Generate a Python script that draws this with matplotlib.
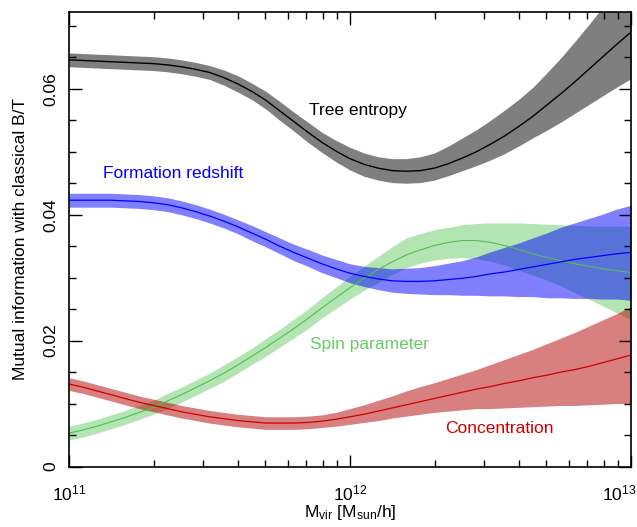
import numpy as np
import matplotlib.pyplot as plt
import matplotlib.transforms as mtransforms

plt.rcParams['font.family'] = ['Liberation Sans', 'DejaVu Sans']
plt.rcParams['mathtext.fontset'] = 'custom'
plt.rcParams['mathtext.rm'] = 'Liberation Sans'
plt.rcParams['mathtext.it'] = 'Liberation Sans:italic'

# halo mass grid, log10(M_vir), read every 0.05 dex
log_mass = [11.00, 11.05, 11.10, 11.15, 11.20, 11.25, 11.30, 11.35, 11.40, 11.45,
            11.50, 11.55, 11.60, 11.65, 11.70, 11.75, 11.80, 11.85, 11.90, 11.95,
            12.00, 12.05, 12.10, 12.15, 12.20, 12.25, 12.30, 12.35, 12.40, 12.45,
            12.50, 12.55, 12.60, 12.65, 12.70, 12.75, 12.80, 12.85, 12.90, 12.95,
            13.00]

# Tree entropy: median and lower/upper spread
tree_mid = [.0646, .0645, .0644, .0643, .0642, .0641, .0640, .0638, .0635, .0631,
            .0626, .0618, .0608, .0596, .0582, .0565, .0548, .0531, .0515, .0501,
            .0489, .0480, .0474, .0470, .0469, .0470, .0474, .0481, .0490, .0500,
            .0512, .0525, .0540, .0556, .0574, .0592, .0611, .0631, .0651, .0671,
            .0690]
tree_dlo = [.0011, .0011, .0011, .0011, .0011, .0011, .0011, .0011, .0011, .0011,
            .0011, .0012, .0013, .0013, .0014, .0015, .0015, .0016, .0016, .0017,
            .0018, .0019, .0019, .0019, .0019, .0019, .0019, .0019, .0020, .0022,
            .0025, .0028, .0031, .0034, .0040, .0045, .0050, .0056, .0062, .0068,
            .0074]
tree_dhi = [.0011, .0011, .0011, .0011, .0011, .0011, .0011, .0011, .0011, .0011,
            .0011, .0012, .0013, .0013, .0014, .0015, .0015, .0016, .0016, .0017,
            .0018, .0018, .0018, .0019, .0020, .0022, .0024, .0028, .0032, .0035,
            .0038, .0041, .0043, .0046, .0051, .0057, .0064, .0071, .0079, .0087,
            .0095]

# Formation redshift
form_mid = [.0423, .0423, .0423, .0423, .0422, .0421, .0419, .0416, .0411, .0405,
            .0398, .0390, .0381, .0371, .0361, .0350, .0340, .0331, .0322, .0314,
            .0307, .0302, .0298, .0295, .0294, .0294, .0295, .0297, .0299, .0302,
            .0306, .0309, .0313, .0317, .0321, .0325, .0329, .0332, .0335, .0338,
            .0340]
form_dlo = [.0011, .0011, .0011, .0011, .0011, .0011, .0011, .0011, .0011, .0011,
            .0011, .0011, .0011, .0012, .0012, .0012, .0013, .0013, .0014, .0014,
            .0015, .0016, .0017, .0018, .0019, .0020, .0022, .0024, .0027, .0030,
            .0035, .0038, .0043, .0047, .0053, .0057, .0062, .0065, .0069, .0072,
            .0076]
form_dhi = [.0011, .0011, .0011, .0011, .0011, .0011, .0011, .0011, .0011, .0011,
            .0011, .0011, .0011, .0012, .0012, .0013, .0013, .0014, .0014, .0015,
            .0015, .0016, .0018, .0019, .0021, .0022, .0024, .0026, .0028, .0031,
            .0035, .0039, .0042, .0046, .0050, .0055, .0058, .0062, .0066, .0071,
            .0075]

# Spin parameter
spin_mid = [.0053, .0058, .0064, .0071, .0078, .0086, .0094, .0104, .0114, .0125,
            .0136, .0148, .0161, .0175, .0189, .0204, .0219, .0235, .0252, .0268,
            .0284, .0299, .0313, .0325, .0336, .0344, .0351, .0356, .0359, .0359,
            .0356, .0351, .0345, .0338, .0332, .0327, .0322, .0318, .0314, .0311,
            .0308]
spin_dlo = [.0011, .0011, .0011, .0011, .0011, .0011, .0011, .0012, .0012, .0012,
            .0012, .0013, .0013, .0013, .0014, .0014, .0015, .0016, .0016, .0017,
            .0018, .0019, .0021, .0020, .0020, .0021, .0023, .0025, .0027, .0029,
            .0030, .0031, .0033, .0034, .0036, .0040, .0046, .0052, .0059, .0067,
            .0075]
spin_dhi = [.0011, .0011, .0011, .0011, .0011, .0011, .0011, .0012, .0012, .0012,
            .0012, .0013, .0013, .0013, .0014, .0014, .0015, .0015, .0016, .0017,
            .0018, .0019, .0021, .0024, .0027, .0026, .0025, .0024, .0025, .0027,
            .0031, .0036, .0042, .0048, .0053, .0057, .0061, .0064, .0068, .0071,
            .0074]

# Concentration
conc_mid = [.0131, .0126, .0120, .0114, .0108, .0102, .0097, .0092, .0087, .0083,
            .0079, .0076, .0073, .0071, .0069, .0069, .0069, .0070, .0072, .0075,
            .0079, .0083, .0088, .0093, .0098, .0103, .0108, .0113, .0118, .0123,
            .0127, .0132, .0136, .0141, .0145, .0150, .0154, .0159, .0165, .0171,
            .0177]
conc_dlo = [.0010, .0010, .0010, .0010, .0010, .0010, .0010, .0010, .0010, .0010,
            .0010, .0010, .0010, .0010, .0010, .0010, .0010, .0010, .0010, .0011,
            .0012, .0013, .0015, .0016, .0018, .0020, .0022, .0025, .0028, .0031,
            .0035, .0039, .0042, .0046, .0049, .0053, .0057, .0061, .0066, .0071,
            .0077]
conc_dhi = [.0010, .0010, .0010, .0010, .0010, .0010, .0010, .0010, .0010, .0010,
            .0010, .0010, .0010, .0010, .0010, .0010, .0010, .0010, .0010, .0011,
            .0013, .0015, .0017, .0019, .0022, .0024, .0025, .0027, .0029, .0031,
            .0035, .0038, .0042, .0045, .0050, .0054, .0059, .0064, .0068, .0072,
            .0077]

mass = 10.0 ** np.array(log_mass)

fig = plt.figure(figsize=(6.37, 5.27), dpi=100)
ax = fig.add_axes([69 / 637, 60.5 / 527, 562 / 637, 454.5 / 527])


def band(mid, dlo, dhi, fill, line, lw, alpha):
    mid = np.array(mid)
    ax.fill_between(mass, mid - np.array(dlo), mid + np.array(dhi),
                    color=fill, alpha=alpha, lw=0)
    ax.plot(mass, mid, color=line, lw=lw)


band(tree_mid, tree_dlo, tree_dhi, '#7f7f7f', 'black', 1.0, 1.0)
band(spin_mid, spin_dlo, spin_dhi, (0.4, 0.8, 0.4), '#55bb55', 0.8, 0.5)
band(form_mid, form_dlo, form_dhi, 'blue', 'blue', 0.9, 0.5)
band(conc_mid, conc_dlo, conc_dhi, (0.7, 0, 0), '#cc0000', 0.9, 0.5)

fs = 12.5
ax.text(10 ** 12.03, 0.0566, 'Tree entropy', color='black', fontsize=fs,
        ha='center', va='center')
ax.text(10 ** 11.37, 0.0466, 'Formation redshift', color='blue', fontsize=fs,
        ha='center', va='center')
ax.text(10 ** 12.07, 0.0194, 'Spin parameter', color='#66cc66', fontsize=fs,
        ha='center', va='center')
ax.text(10 ** 12.53, 0.0061, 'Concentration', color='#cc0000', fontsize=fs,
        ha='center', va='center')

ax.set_xscale('log')
ax.set_xlim(1e11, 1e13)
ax.set_ylim(0, 0.0722)
ax.set_xticks([1e11, 1e12, 1e13])
ax.set_yticks([0, 0.02, 0.04, 0.06])
ax.set_yticklabels(['0', '0.02', '0.04', '0.06'])
ax.set_yticks(np.arange(0, 0.0721, 0.005), minor=True)
ax.tick_params(which='both', direction='in', top=True, right=True, labelsize=fs)
ax.tick_params(which='major', length=9, width=1)
ax.tick_params(which='minor', length=5, width=1)
ax.tick_params(axis='x', pad=12)
ax.tick_params(axis='y', labelrotation=90, pad=8)
for lab in ax.get_yticklabels():
    lab.set_va('center')
last = ax.get_xticklabels()[-1]
last.set_ha('right')
last.set_transform(last.get_transform() +
                   mtransforms.ScaledTranslation(0.05, 0, fig.dpi_scale_trans))
for s in ax.spines.values():
    s.set_linewidth(1.2)

ax.set_xlabel('M$_{\\rm vir}$ [M$_{\\rm sun}$/h]', fontsize=fs, labelpad=0)
ax.set_ylabel('Mutual information with classical B/T', fontsize=fs, labelpad=11)

plt.savefig('out.png', dpi=100)
